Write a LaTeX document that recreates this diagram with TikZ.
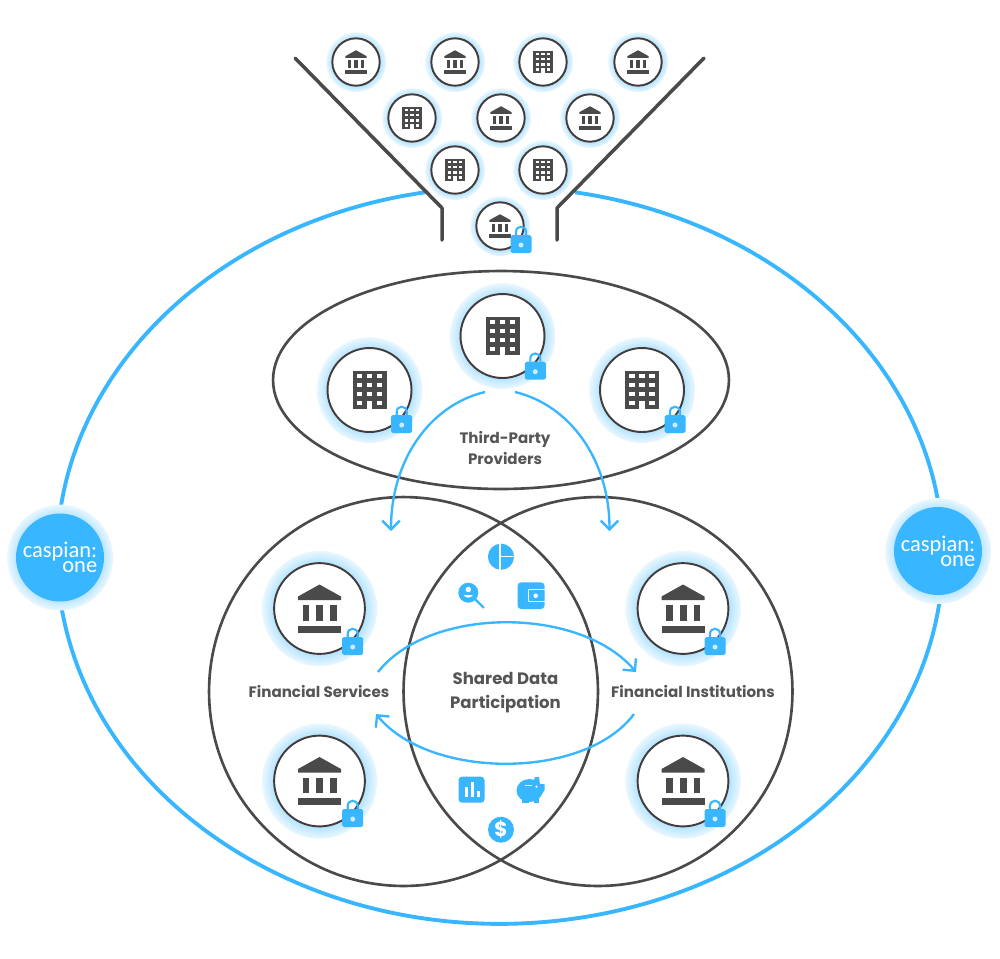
\documentclass[tikz,border=0pt]{standalone}
\usepackage{fontspec}
\setmainfont{Poppins}
\newfontfamily\logofont{Carlito}
\usetikzlibrary{arrows.meta,shapes.geometric}
\definecolor{cpBlue}{HTML}{38B6FF}
\definecolor{cpInk}{HTML}{4A4A4A}
\definecolor{cpRing}{HTML}{443C3A}
\definecolor{cpText}{HTML}{555555}
\definecolor{cpGlow}{HTML}{B5E4FF}
\definecolor{cpGlowMid}{HTML}{D6F0FF}
\definecolor{cpGlowEdge}{HTML}{EAF7FF}
\definecolor{cpDot}{HTML}{CFEBFF}
\pgfdeclareradialshading{cpglow}{\pgfpoint{0bp}{0bp}}{
  color(0bp)=(cpGlow); color(20bp)=(cpGlow); color(23bp)=(cpGlowMid); color(25bp)=(cpGlowEdge); color(25.5bp)=(white); color(50bp)=(white)}
\tikzset{
  % Soft blue glow behind a ring
  halo/.style={circle,inner sep=0pt,shading=cpglow},
  % White ring with a dark border
  ring/.style={circle,inner sep=0pt,draw=cpRing,fill=white,line width=1.1pt},
  % Large outlines
  wallring/.style={line width=1.5pt,draw=cpInk,inner sep=0pt},
  outerring/.style={line width=2.2pt,draw=cpBlue},
  funnelwall/.style={line width=2pt,draw=cpInk,line cap=round,line join=round},
  % Arrows
  flow/.style={-{Straight Barb[length=5pt,width=10pt]},line width=1.35pt,draw=cpBlue},
  % Labels
  lbl/.style={font=\fontsize{8.6}{12.5}\selectfont\bfseries,text=cpText,align=center,inner sep=0pt},
  sharedlbl/.style={font=\fontsize{9.4}{13.7}\selectfont\bfseries,text=cpText,align=center,inner sep=0pt},
  % Logo disc
  logodisc/.style={circle,inner sep=0pt,fill=cpBlue,text=white,align=right,minimum size=1.76cm,
    font=\logofont\fontsize{12.8}{8.5}\selectfont},
  % Icon shapes
  bankicon/.pic={
    \fill[cpInk] (0,-24) -- (21.5,-12) -- (21.5,-8.3) -- (-21.5,-8.3) -- (-21.5,-12) -- cycle;
    \fill[cpInk] (-16.8,-3.3) rectangle (-10.2,12.3);
    \fill[cpInk] (-3.2,-3.3) rectangle (3.5,12.3);
    \fill[cpInk] (10.5,-3.3) rectangle (17.2,12.3);
    \fill[cpInk] (-21.5,17.3) rectangle (21.5,24);
  },
  officeicon/.pic={
    \fill[cpInk] (-17,-19) rectangle (17,19);
    \foreach \wx in {-10,0,10}
      \foreach \wy in {-14,-5,4}
        \fill[white] (\wx-2.8,\wy-2.3) rectangle (\wx+2.8,\wy+2.3);
    \fill[white] (-12.8,10.7) rectangle (-7.2,15.3);
    \fill[white] (7.2,10.7) rectangle (12.8,15.3);
    \fill[white] (-2.8,10.7) rectangle (2.8,19);
  },
  lockmark/.pic={
    \draw[cpBlue,line width=1.2pt] (-5,-9) -- (-5,-12) .. controls (-5,-19) and (5,-19) .. (5,-12) -- (5,-9);
    \fill[cpBlue,rounded corners=1pt] (-10.5,-9) rectangle (10.5,9);
    \fill[cpDot] (0,1) circle[radius=.05cm];
  },
  % Ring and icon together
  smallbank/.pic={
    \node[halo,minimum size=1.2cm] (-halo) {};
    \node[ring,minimum size=.948cm] (-ring) {};
    \pic[scale=.49] {bankicon};
  },
  smalloffice/.pic={
    \node[halo,minimum size=1.2cm] (-halo) {};
    \node[ring,minimum size=.948cm] (-ring) {};
    \pic[scale=.58] {officeicon};
  },
  midoffice/.pic={
    \node[halo,minimum size=2.12cm] (-halo) {};
    \node[ring,minimum size=1.68cm] (-ring) {};
    \pic {officeicon};
  },
  bigbank/.pic={
    \node[halo,minimum size=2.31cm] (-halo) {};
    \node[ring,minimum size=1.816cm] (-ring) {};
    \pic {bankicon};
  },
  % Data icons
  pieicon/.pic={
    \fill[cpBlue] (0,0) circle[radius=.262cm];
    \draw[white,line width=.7pt] (-1,-14) -- (-1,14);
    \draw[white,line width=.7pt] (-1,0) -- (14,0);
  },
  searchicon/.pic={
    \draw[cpBlue,line width=1.4pt,line cap=round] (2,2) -- (12.5,12.5);
    \fill[cpBlue] (-2.7,-2.3) circle[radius=.2cm];
    \fill[white] (-2.7,-5.5) circle[radius=.055cm];
    \fill[white] (-7.5,0) .. controls (-5,3.5) and (-.5,3.5) .. (2,0) -- cycle;
  },
  walleticon/.pic={
    \fill[cpBlue,rounded corners=2pt] (-13.5,-13.3) rectangle (13.5,13.3);
    \draw[white,line width=.6pt] (13.5,-6) -- (-2.5,-6) -- (-2.5,6) -- (13.5,6);
    \fill[white] (4.7,0) circle[radius=.045cm];
  },
  charticon/.pic={
    \fill[cpBlue,rounded corners=2pt] (-13,-13) rectangle (13,13);
    \fill[white] (-7,-3) rectangle (-3.7,7);
    \fill[white] (-.7,-8) rectangle (2.7,7);
    \fill[white] (5.3,1.3) rectangle (8,7);
  },
  piggyicon/.pic={
    \fill[cpBlue] (-1.5,0.5) ellipse[x radius=.26cm,y radius=.23cm];
    \fill[cpBlue] (4,-13) -- (8,-13) -- (9,-6) -- (13.7,-6) -- (13.7,0) -- (9,7) -- (0,0) -- cycle;
    \fill[cpBlue] (-9,4) rectangle (-2.5,13);
    \fill[cpBlue] (2.5,4) rectangle (7.5,13);
    \fill[white] (-6,-5.5) rectangle (1,-4);
    \fill[white] (5.5,-3.5) circle[radius=.025cm];
  },
}
\begin{document}
\begin{tikzpicture}[x=.02cm,y=-.02cm]
  \useasboundingbox (0,0) rectangle (1000,958);

  % Outer ring, open under the funnel
  \coordinate (ringL) at (425,192.3);
  \draw[outerring] (ringL) arc[start angle=99.75,end angle=440.25,x radius=8.86cm,y radius=7.37cm];

  % Funnel
  \coordinate (fnLa) at (295,58);
  \coordinate (fnLb) at (442,208);
  \coordinate (fnLc) at (442,240);
  \coordinate (fnRa) at (704,58);
  \coordinate (fnRb) at (557,208);
  \coordinate (fnRc) at (557,240);
  \draw[funnelwall] (fnLa) -- (fnLb) -- (fnLc);
  \draw[funnelwall] (fnRa) -- (fnRb) -- (fnRc);

  % Outlines
  \node[ellipse,wallring,minimum width=9.12cm,minimum height=4.36cm] (third) at (501,380) {};
  \node[circle,wallring,minimum size=7.78cm] (serv) at (403.5,691.5) {};
  \node[circle,wallring,minimum size=7.78cm] (inst) at (598,691.5) {};

  % Funnel contents
  \pic (fa) at (356,62) {smallbank};
  \pic (fb) at (455,62) {smallbank};
  \pic (fc) at (543,62) {smalloffice};
  \pic (fd) at (638,62) {smallbank};
  \pic (fe) at (412,118) {smalloffice};
  \pic (ff) at (501,118) {smallbank};
  \pic (fg) at (590,118) {smallbank};
  \pic (fh) at (455,170) {smalloffice};
  \pic (fi) at (543,170) {smalloffice};
  \pic (fj) at (500,226) {smallbank};
  \pic (fjlock) at (521,244) {lockmark};

  % Third-party providers
  \pic (tpa) at (502.5,336) {midoffice};
  \pic (tpb) at (369.5,390) {midoffice};
  \pic (tpc) at (642,390) {midoffice};
  \pic (tpalock) at (535.3,370.7) {lockmark};
  \pic (tpblock) at (401.7,424) {lockmark};
  \pic (tpclock) at (675,424) {lockmark};
  \node[lbl] (thirdlbl) at (505,448) {Third-Party\\Providers};

  % Financial groups
  \pic (sa) at (319.5,608.5) {bigbank};
  \pic (sb) at (319.5,781) {bigbank};
  \pic (ia) at (683,608.5) {bigbank};
  \pic (ib) at (683,781) {bigbank};
  \pic (salock) at (352.7,646) {lockmark};
  \pic (sblock) at (352.7,818) {lockmark};
  \pic (ialock) at (715,646) {lockmark};
  \pic (iblock) at (715,818) {lockmark};
  \node[lbl] (servlbl) at (319,691) {Financial Services};
  \node[lbl] (instlbl) at (693,691) {Financial Institutions};
  \node[sharedlbl] (sharedlbl) at (505.5,692.5) {Shared Data\\Participation};

  % Data icons
  \pic (pie) at (501,556.7) {pieicon};
  \pic (search) at (471,595) {searchicon};
  \pic (wallet) at (531,595.7) {walleticon};
  \pic (chart) at (471.5,789.7) {charticon};
  \pic (piggy) at (531,790) {piggyicon};
  \node[circle,fill=cpBlue,text=white,inner sep=0pt,minimum size=.52cm,
    font=\fontsize{11.5}{11.5}\selectfont\bfseries] (dollar) at (501,829.7) {\$};

  % Flows
  \coordinate (tpOutL) at (485,392);
  \coordinate (tpOutR) at (515,392);
  \coordinate (servIn) at (391,531);
  \coordinate (instIn) at (609.5,531);
  \coordinate (swapA) at (378,672);
  \coordinate (swapB) at (636,672);
  \coordinate (swapC) at (634,714);
  \coordinate (swapD) at (376,714);
  \draw[flow] (tpOutL) .. controls (430,405) and (391,460) .. (servIn);
  \draw[flow] (tpOutR) .. controls (570,405) and (609.5,460) .. (instIn);
  \draw[flow] (swapA) .. controls (430,606) and (580,606) .. (swapB);
  \draw[flow] (swapC) .. controls (585,780) and (430,780) .. (swapD);

  % Logos
  \node[halo,minimum size=2.12cm] (logoLhalo) at (60,557.5) {};
  \node[halo,minimum size=2.12cm] (logoRhalo) at (938,551) {};
  \node[logodisc] (logoL) at (60,557.5) {caspian:\\one\hspace{3.2pt}};
  \node[logodisc] (logoR) at (938,551) {caspian:\\one\hspace{3.2pt}};
\end{tikzpicture}
\end{document}
